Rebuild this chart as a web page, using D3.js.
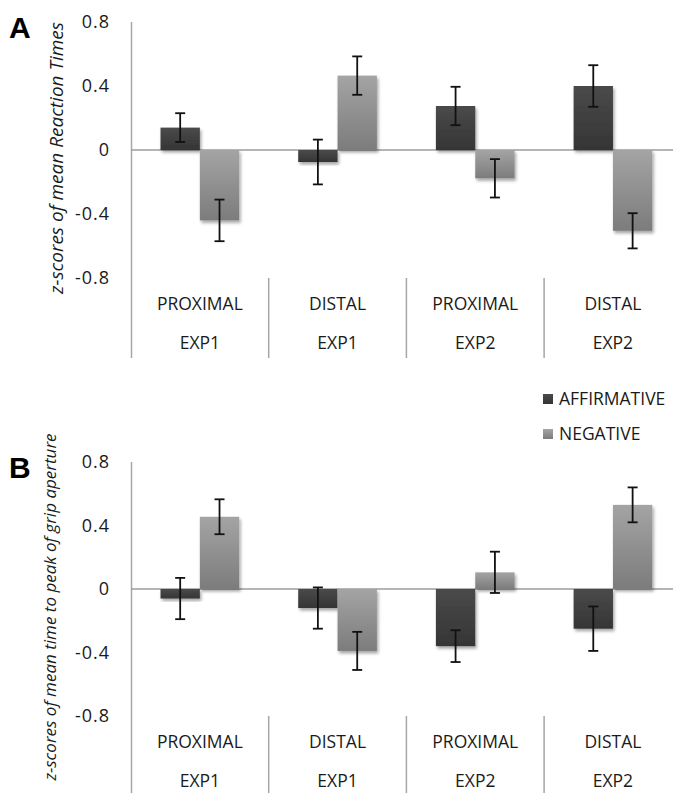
<!DOCTYPE html>
<html>
<head>
<meta charset="utf-8">
<script src="https://cdn.jsdelivr.net/npm/d3@7"></script>
<style>
  body { margin: 0; background: #fff; }
  svg { display: block; font-family: "Open Sans", sans-serif; }
</style>
</head>
<body>
<svg class="chart"></svg>
<script>
// conditions along the x axis (two label rows)
var condLabels = ["PROXIMAL", "DISTAL", "PROXIMAL", "DISTAL"];
var expLabels = ["EXP1", "EXP1", "EXP2", "EXP2"];
var series = ["AFFIRMATIVE", "NEGATIVE"];

// panel A: z-scores of mean reaction times
var rtAff = [0.14, -0.075, 0.275, 0.40];
var rtAffErr = [0.09, 0.14, 0.12, 0.13];
var rtNeg = [-0.44, 0.465, -0.177, -0.505];
var rtNegErr = [0.13, 0.12, 0.12, 0.11];

// panel B: z-scores of mean time to peak of grip aperture
var gripAff = [-0.06, -0.12, -0.36, -0.25];
var gripAffErr = [0.13, 0.13, 0.10, 0.14];
var gripNeg = [0.455, -0.39, 0.105, 0.53];
var gripNegErr = [0.11, 0.12, 0.13, 0.11];

var yTicks = [0.8, 0.4, 0, -0.4, -0.8];
var yTickLabels = ["0.8", "0.4", "0", "-0.4", "-0.8"];

var width = 673;
var height = 793;
var svg = d3.select(".chart").attr("width", width).attr("height", height);

var defs = svg.append("defs");
function grad(id, top, bottom) {
  var g = defs.append("linearGradient").attr("id", id)
      .attr("x1", 0).attr("y1", 0).attr("x2", 0).attr("y2", 1);
  g.append("stop").attr("offset", "0%").attr("stop-color", top);
  g.append("stop").attr("offset", "100%").attr("stop-color", bottom);
}
grad("gAff", "#4a4a4a", "#353535");
grad("gNeg", "#a4a4a4", "#7c7c7c");
var shadow = defs.append("filter").attr("id", "shadow")
    .attr("x", "-20%").attr("y", "-20%").attr("width", "150%").attr("height", "150%");
shadow.append("feDropShadow").attr("dx", 1.5).attr("dy", 2.5)
    .attr("stdDeviation", 1.5).attr("flood-color", "#000").attr("flood-opacity", 0.35);

var fills = {AFFIRMATIVE: "url(#gAff)", NEGATIVE: "url(#gNeg)"};
var textColor = "#1a1a1a";

var x = d3.scaleBand()
    .domain(d3.range(condLabels.length))
    .range([131, 131 + 4 * 137.7]);

var xSub = d3.scaleBand()
    .domain(series)
    .range([0, x.bandwidth()])
    .paddingInner(0)
    .paddingOuter(0.75);

function drawPanel(p) {
  var y = d3.scaleLinear().domain([-0.8, 0.8]).range([p.bottom, p.top]);
  var g = svg.append("g");

  // panel letter
  g.append("text")
      .attr("x", 9).attr("y", p.top + 16)
      .style("font-family", "'Liberation Sans', Arial, sans-serif")
      .style("font-weight", "bold")
      .style("font-size", "30px")
      .attr("fill", "#000")
      .text(p.letter);

  // y axis ticks (labels only)
  var yAxis = d3.axisLeft(y)
      .tickValues(yTicks)
      .tickFormat(function(d, i) { return yTickLabels[i]; })
      .tickSize(0)
      .tickPadding(21);
  var ax = g.append("g").attr("transform", "translate(131,0)").call(yAxis);
  ax.select(".domain").remove();
  ax.selectAll("text")
      .style("font-family", "'Open Sans', sans-serif")
      .style("font-size", "18px")
      .style("letter-spacing", "1px")
      .attr("fill", textColor);

  // y title
  g.append("text")
      .attr("transform", "translate(" + p.titleX + "," + p.titleY + ") rotate(-90)")
      .attr("text-anchor", "middle")
      .style("font-style", "italic")
      .style("font-size", p.titleSize)
      .attr("fill", textColor)
      .text(p.title);

  // vertical axis line and category separators
  g.append("line")
      .attr("x1", 131.5).attr("x2", 131.5)
      .attr("y1", p.top).attr("y2", p.bottom + 80)
      .attr("stroke", "#a6a6a6").attr("stroke-width", 1.5);
  g.selectAll(".sep")
      .data(d3.range(1, condLabels.length))
      .enter().append("line")
      .attr("x1", function(d) { return x(d); })
      .attr("x2", function(d) { return x(d); })
      .attr("y1", p.bottom)
      .attr("y2", p.bottom + 80)
      .attr("stroke", "#a6a6a6").attr("stroke-width", 1.5);

  // zero line
  g.append("line")
      .attr("x1", 131).attr("x2", width)
      .attr("y1", y(0)).attr("y2", y(0))
      .attr("stroke", "#9c9c9c").attr("stroke-width", 1.5);

  // category labels
  g.selectAll(".cond")
      .data(condLabels)
      .enter().append("text")
      .attr("x", function(d, i) { return x(i) + x.bandwidth() / 2; })
      .attr("y", p.bottom + 32)
      .attr("text-anchor", "middle")
      .style("font-size", "17.5px")
      .attr("fill", textColor)
      .text(function(d) { return d; });
  g.selectAll(".exp")
      .data(expLabels)
      .enter().append("text")
      .attr("x", function(d, i) { return x(i) + x.bandwidth() / 2; })
      .attr("y", p.bottom + 71)
      .attr("text-anchor", "middle")
      .style("font-size", "17.5px")
      .attr("fill", textColor)
      .text(function(d) { return d; });

  // bars
  var rows = [];
  condLabels.forEach(function(c, i) {
    rows.push({i: i, s: "AFFIRMATIVE", v: p.aff[i], e: p.affErr[i]});
    rows.push({i: i, s: "NEGATIVE", v: p.neg[i], e: p.negErr[i]});
  });

  g.selectAll(".bar")
      .data(rows)
      .enter().append("rect")
      .attr("x", function(d) { return x(d.i) + xSub(d.s); })
      .attr("width", xSub.bandwidth())
      .attr("y", function(d) { return y(Math.max(0, d.v)); })
      .attr("height", function(d) { return Math.abs(y(d.v) - y(0)); })
      .attr("fill", function(d) { return fills[d.s]; })
      .attr("filter", "url(#shadow)");

  // error bars
  var eb = g.selectAll(".err").data(rows).enter().append("g")
      .attr("stroke", "#111").attr("stroke-width", 1.8);
  function cx(d) { return x(d.i) + xSub(d.s) + xSub.bandwidth() / 2; }
  eb.append("line")
      .attr("x1", cx).attr("x2", cx)
      .attr("y1", function(d) { return y(d.v + d.e); })
      .attr("y2", function(d) { return y(d.v - d.e); });
  eb.append("line")
      .attr("x1", function(d) { return cx(d) - 5; })
      .attr("x2", function(d) { return cx(d) + 5; })
      .attr("y1", function(d) { return y(d.v + d.e); })
      .attr("y2", function(d) { return y(d.v + d.e); });
  eb.append("line")
      .attr("x1", function(d) { return cx(d) - 5; })
      .attr("x2", function(d) { return cx(d) + 5; })
      .attr("y1", function(d) { return y(d.v - d.e); })
      .attr("y2", function(d) { return y(d.v - d.e); });
}

drawPanel({
  letter: "A", top: 22, bottom: 278,
  title: "z-scores of mean Reaction Times", titleX: 63, titleY: 158, titleSize: "19px",
  aff: rtAff, affErr: rtAffErr, neg: rtNeg, negErr: rtNegErr
});

drawPanel({
  letter: "B", top: 462, bottom: 716,
  title: "z-scores of mean time to peak of grip aperture", titleX: 56, titleY: 607, titleSize: "17px",
  aff: gripAff, affErr: gripAffErr, neg: gripNeg, negErr: gripNegErr
});

// legend
var legend = svg.append("g");
series.forEach(function(s, i) {
  legend.append("rect")
      .attr("x", 543).attr("y", 394 + i * 35)
      .attr("width", 10).attr("height", 10)
      .attr("fill", fills[s]);
  legend.append("text")
      .attr("x", 559).attr("y", 405 + i * 35)
      .style("font-size", "17.5px")
      .attr("fill", textColor)
      .text(s);
});
</script>
</body>
</html>
